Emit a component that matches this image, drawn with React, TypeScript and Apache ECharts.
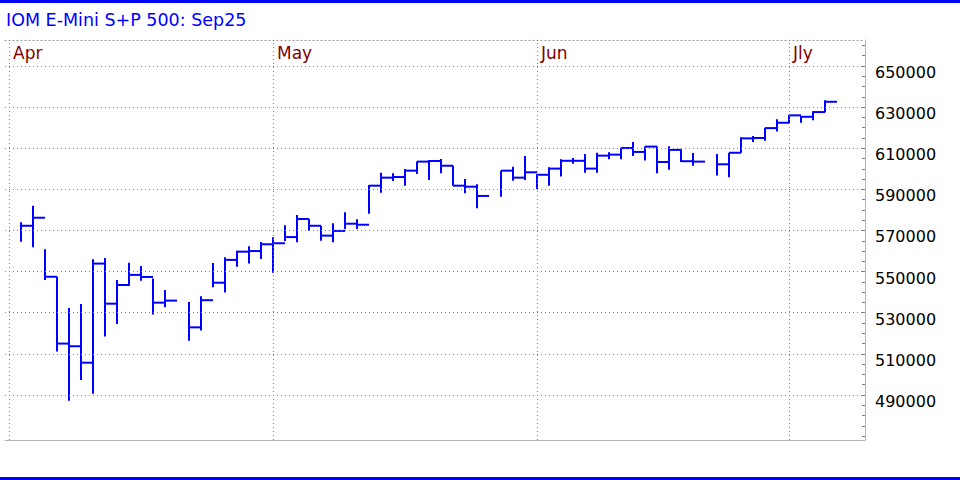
import React, { useEffect, useRef } from "react";
import * as echarts from "echarts";

// Trading-day slot (weekdays counted from Apr 1; holidays are empty slots)
const slots = [0,1,2,3,4,5,6,7,8,9,10,11,12,14,15,16,17,18,19,20,21,22,23,24,25,26,27,28,29,30,31,32,33,34,35,36,37,38,40,41,42,43,44,45,46,47,48,49,50,51,52,53,54,55,56,58,59,60,61,62,63,64,65,66,67];
const highs = [574000,582000,560900,547500,532300,534300,556000,556600,545900,554300,552700,546600,541100,535200,538000,554200,557000,560200,562300,564400,566700,572500,577500,575600,572300,573500,578900,575500,592100,598100,597800,599900,603500,604300,604800,601500,595000,592500,599100,601000,606200,597500,600700,604600,605300,607200,607800,608000,610300,613000,610800,610800,611000,609500,607700,607200,607800,615300,616000,620000,624100,626300,625700,628000,633300];
const lows = [564500,561800,545900,511100,487200,497300,490600,518400,524500,543000,545600,529100,532700,516400,521300,542400,539800,552400,553900,556100,549500,564900,564300,569900,565000,564300,570700,570700,578200,588400,594100,591800,597500,594600,597800,591800,588100,580800,586400,594200,594600,590200,591800,596200,602500,598100,598100,604600,604600,606200,604100,597800,599600,603300,601500,596800,595900,607800,613000,613700,618100,622100,622400,623600,627500];
const closes = [572300,576200,547500,515000,513700,505700,553900,534400,543500,548400,547400,534900,535900,522900,536100,544600,555700,559700,560000,563300,563800,566800,575600,572300,567500,569800,573300,572800,591800,595700,596000,599100,603500,603800,601500,591800,591300,586800,599100,595700,598300,597100,600100,603900,603900,600100,606400,606900,610100,608200,610800,603300,609200,603700,603500,602200,607800,614800,615000,619800,622400,626000,625300,627600,632600];

const monthLabels = ["Apr", "May", "Jun", "Jly"];
const monthSlots = [-1, 21, 43, 64];
const priceLabels = [490000, 510000, 530000, 550000, 570000, 590000, 610000, 630000, 650000];
const priceTicks = [470000,475000,480000,485000,490000,495000,500000,505000,510000,515000,520000,525000,530000,535000,540000,545000,550000,555000,560000,565000,570000,575000,580000,585000,590000,595000,600000,605000,610000,615000,620000,625000,630000,635000,640000,645000,650000,655000,660000];
const titleText = "IOM E-Mini S+P 500: Sep25";

const FONT = '"DejaVu Sans", Verdana, sans-serif';
const X_MIN = -4 / 3;
const X_MAX = 70 + 1 / 3;
const Y_MIN = 468100;
const Y_MAX = 662650;

export default function App() {
  const ref = useRef<HTMLDivElement>(null);
  useEffect(() => {
    if (!ref.current) return;
    const chart = echarts.init(ref.current, null, { renderer: "svg" });
    const data = slots.map((s, i) => [s, highs[i], lows[i], closes[i]]);
    const option: any = {
      animation: false,
      backgroundColor: "#ffffff",
      grid: { left: 5, right: 95, top: 40, bottom: 40, containLabel: false },
      graphic: [
        { type: "rect", shape: { x: 0, y: 0, width: 960, height: 3 }, style: { fill: "#0000ff" }, silent: true },
        { type: "rect", shape: { x: 0, y: 477, width: 960, height: 3 }, style: { fill: "#0000ff" }, silent: true },
        {
          type: "text",
          x: 6,
          y: 11,
          style: { text: titleText, fill: "#0000ff", font: `17.5px ${FONT}`, verticalAlign: "top", align: "left" },
          silent: true,
        },
      ],
      xAxis: [
        {
          type: "value",
          min: X_MIN,
          max: X_MAX,
          position: "bottom",
          axisLine: { show: true, onZero: false, lineStyle: { color: "#b4b4b4", width: 1 } },
          axisTick: { show: false },
          axisLabel: { show: false },
          splitLine: { show: false },
        },
        {
          type: "value",
          min: X_MIN,
          max: X_MAX,
          position: "top",
          axisLine: { show: true, onZero: false, lineStyle: { color: "#909090", width: 1, type: [1, 3] } },
          axisTick: { show: false },
          axisLabel: {
            show: true,
            inside: true,
            customValues: monthSlots,
            formatter: (v: number) => {
              const k = monthSlots.indexOf(Math.round(v));
              return k >= 0 ? monthLabels[k] : "";
            },
            color: "#800000",
            fontSize: 17,
            fontFamily: FONT,
            align: "left",
            verticalAlign: "middle",
            margin: 13,
            padding: [0, 0, 0, 4],
          },
          splitLine: { show: false },
        },
      ],
      yAxis: {
        type: "value",
        position: "right",
        min: Y_MIN,
        max: Y_MAX,
        axisLine: { show: true, onZero: false, lineStyle: { color: "#b4b4b4", width: 1 } },
        axisTick: { show: true, inside: true, length: 3, customValues: priceTicks, lineStyle: { color: "#808080" } },
        axisLabel: {
          customValues: priceLabels,
          formatter: (v: number) => String(v),
          color: "#000000",
          fontSize: 16,
          fontFamily: FONT,
          margin: 10,
          verticalAlign: "top",
          lineHeight: 13,
        },
        splitLine: { show: false },
      },
      series: [
        {
          type: "line",
          data: [],
          silent: true,
          markLine: {
            silent: true,
            symbol: "none",
            animation: false,
            label: { show: false },
            lineStyle: { color: "#808080", width: 1, type: [1, 3] },
            emphasis: { disabled: true },
            data: [
              ...priceLabels.map((v) => ({ yAxis: v })),
              ...monthSlots.map((s) => ({ xAxis: s })),
            ],
          },
        },
        {
          type: "custom",
          data,
          encode: { x: 0, y: [1, 2, 3] },
          silent: true,
          renderItem: (params: any, api: any) => {
            const x = api.value(0);
            const pHi = api.coord([x, api.value(1)]);
            const pLo = api.coord([x, api.value(2)]);
            const pCl = api.coord([x, api.value(3)]);
            const w = api.size([1, 0])[0];
            const style = { stroke: "#0000ff", lineWidth: 2, fill: "none" };
            return {
              type: "group",
              children: [
                { type: "line", shape: { x1: pHi[0], y1: pHi[1], x2: pLo[0], y2: pLo[1] }, style },
                { type: "line", shape: { x1: pCl[0], y1: pCl[1], x2: pCl[0] + w, y2: pCl[1] }, style },
              ],
            };
          },
        },
      ],
    };
    chart.setOption(option);
    return () => chart.dispose();
  }, []);
  return (
    <div
      ref={ref}
      style={{ position: "fixed", left: 0, top: 0, width: 960, height: 480, background: "#ffffff" }}
    />
  );
}
